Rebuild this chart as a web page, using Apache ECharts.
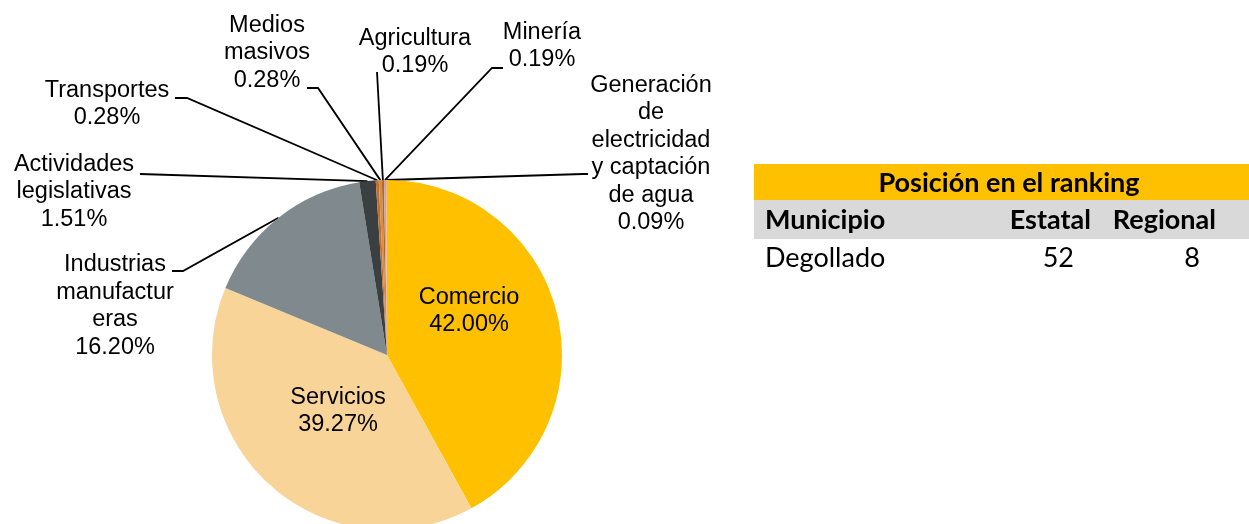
<!DOCTYPE html>
<html>
<head>
<meta charset="utf-8">
<script src="https://cdn.jsdelivr.net/npm/echarts@6/dist/echarts.min.js"></script>
<style>
  html, body { margin: 0; padding: 0; background: #fff; }
  #chart { width: 1249px; height: 524px; }
</style>
</head>
<body>
<div id="chart"></div>
<script>
// 各行业占比（%）
var categories = ['Comercio', 'Servicios', 'Industrias manufactureras', 'Actividades legislativas',
    'Transportes', 'Medios masivos', 'Agricultura', 'Minería',
    'Generación de electricidad y captación de agua'];
// 标签显示用的换行名称
var labelNames = ['Comercio', 'Servicios', 'Industrias\nmanufactur\neras', 'Actividades\nlegislativas',
    'Transportes', 'Medios\nmasivos', 'Agricultura', 'Minería',
    'Generación\nde\nelectricidad\ny captación\nde agua'];
var shares = [42.00, 39.27, 16.20, 1.51, 0.28, 0.28, 0.19, 0.19, 0.09];

// 排名表
var tableTitle = 'Posición en el ranking';
var tableHead = ['Municipio', 'Estatal', 'Regional'];
var tableRow = ['Degollado', '52', '8'];

var colors = ['#FFC000', '#F9D499', '#7F898E', '#3A3F42', '#BD7132', '#E08A3C', '#A86A30', '#C8A8A4', '#F4B183'];

// 标签位置（中心点）
var labelPos = [
    [469, 311], [338, 411], [115, 306], [74, 192],
    [107, 104], [267, 53], [415, 52], [542, 46], [651, 154]
];
// 引导线在标签一侧的折点和端点
var lineEnds = [
    null, null,
    [[183, 271], [172, 271]],
    [[140, 174], [140, 174]],
    [[187, 98], [175, 98]],
    [[318, 88], [307, 88]],
    [[377, 72], [377, 72]],
    [[492, 68], [503, 68]],
    [[583, 174], [588, 174]]
];

var chart = echarts.init(document.getElementById('chart'));

var pieData = [];
for (var i = 0; i < categories.length; i++) {
    var inside = i < 2;
    pieData.push({
        name: categories[i],
        value: shares[i],
        itemStyle: { color: colors[i] },
        label: { position: inside ? 'inside' : 'outside' },
        labelLine: { show: !inside }
    });
}

var font = '"Liberation Sans", Arial, sans-serif';
var tfont = 'Lato, "Open Sans", sans-serif';

var option = {
    animation: false,
    series: [{
        type: 'pie',
        center: [387, 355],
        radius: 175,
        startAngle: 90,
        clockwise: true,
        avoidLabelOverlap: false,
        label: {
            show: true,
            color: '#000',
            fontFamily: font,
            fontSize: 23.5,
            lineHeight: 27.5,
            align: 'center',
            formatter: function (p) {
                return labelNames[p.dataIndex] + '\n' + shares[p.dataIndex].toFixed(2) + '%';
            }
        },
        labelLine: {
            lineStyle: { color: '#000', width: 1.8 },
            length: 10,
            length2: 10
        },
        labelLayout: function (p) {
            var pos = labelPos[p.dataIndex];
            var res = { x: pos[0], y: pos[1], align: 'center', verticalAlign: 'middle' };
            var ends = lineEnds[p.dataIndex];
            if (ends && p.labelLinePoints) {
                res.labelLinePoints = [p.labelLinePoints[0], ends[0], ends[1]];
            }
            return res;
        },
        data: pieData
    }],
    graphic: [
        { type: 'rect', shape: { x: 754, y: 164, width: 495, height: 36 }, style: { fill: '#FFC000' } },
        { type: 'rect', shape: { x: 754, y: 200, width: 495, height: 39 }, style: { fill: '#D9D9D9' } },
        { type: 'text', x: 1009, y: 183, style: { text: tableTitle, fill: '#000', font: 'bold 27px ' + tfont, align: 'center', verticalAlign: 'middle' } },
        { type: 'text', x: 765, y: 220, style: { text: tableHead[0], fill: '#000', font: 'bold 27px ' + tfont, align: 'left', verticalAlign: 'middle' } },
        { type: 'text', x: 1091, y: 220, style: { text: tableHead[1], fill: '#000', font: 'bold 27px ' + tfont, align: 'right', verticalAlign: 'middle' } },
        { type: 'text', x: 1216, y: 220, style: { text: tableHead[2], fill: '#000', font: 'bold 27px ' + tfont, align: 'right', verticalAlign: 'middle' } },
        { type: 'text', x: 765, y: 258, style: { text: tableRow[0], fill: '#000', font: '27px ' + tfont, align: 'left', verticalAlign: 'middle' } },
        { type: 'text', x: 1074, y: 258, style: { text: tableRow[1], fill: '#000', font: '27px ' + tfont, align: 'right', verticalAlign: 'middle' } },
        { type: 'text', x: 1200, y: 258, style: { text: tableRow[2], fill: '#000', font: '27px ' + tfont, align: 'right', verticalAlign: 'middle' } }
    ]
};
chart.setOption(option);
</script>
</body>
</html>
